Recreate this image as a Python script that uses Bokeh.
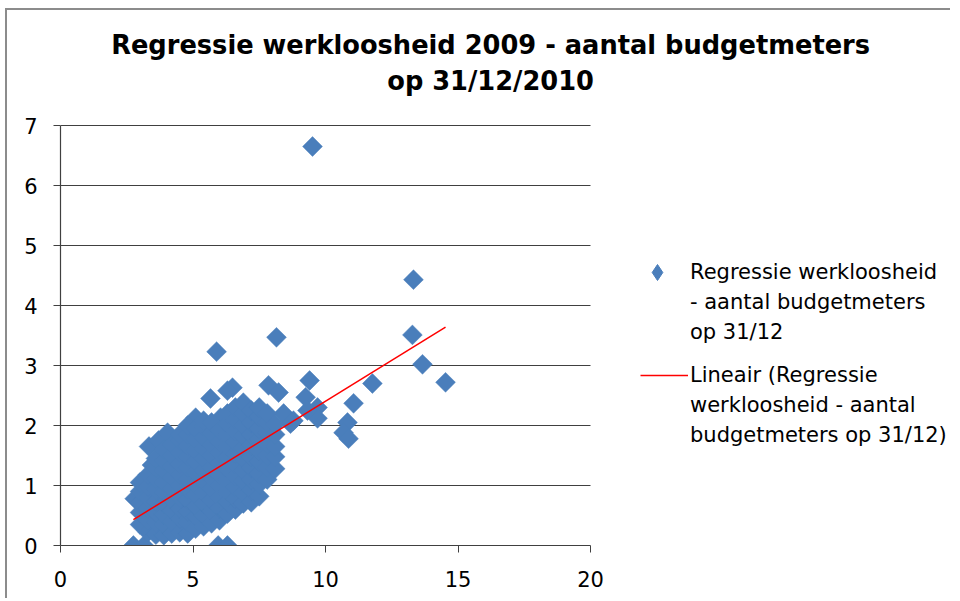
import math
from bokeh.plotting import figure
from bokeh.models import Range1d, FixedTicker, Legend, LegendItem, Label, ColumnDataSource
from bokeh.embed import file_html
from bokeh.resources import INLINE

# --- data ---
# individually readable points (outliers and cluster edges)
edge_x = [9.51, 13.32, 13.28, 13.66, 14.53, 8.15, 11.77, 11.06, 10.83, 10.68, 10.87,
          5.89, 7.85, 8.23, 9.40, 9.25, 9.70, 9.70, 8.42, 8.79, 9.32, 8.68, 5.66,
          6.49, 6.30, 3.34, 3.45, 2.80, 2.75, 3.15, 5.95, 6.30, 3.70, 4.04, 5.10, 6.04]
edge_y = [6.65, 4.43, 3.51, 3.02, 2.72, 3.47, 2.70, 2.37, 2.05, 1.88, 1.78,
          3.23, 2.67, 2.55, 2.75, 2.47, 2.30, 2.12, 2.20, 2.08, 2.25, 2.03, 2.45,
          2.63, 2.58, 1.65, 1.34, 0.78, 0.00, 0.00, 0.00, 0.00, 1.75, 1.88, 2.13, 2.13]

# dense cluster, read column by column (unemployment %, budget meters %)
cluster_cols = [
    (3.0, [0.35, 0.55, 0.72, 0.90, 1.05]),
    (3.3, [0.22, 0.42, 0.61, 0.80, 0.98, 1.18]),
    (3.6, [0.18, 0.38, 0.55, 0.74, 0.93, 1.12, 1.30, 1.45]),
    (3.9, [0.17, 0.35, 0.52, 0.70, 0.88, 1.05, 1.25, 1.42, 1.60]),
    (4.2, [0.20, 0.40, 0.58, 0.77, 0.95, 1.13, 1.32, 1.50, 1.68]),
    (4.5, [0.22, 0.45, 0.62, 0.80, 1.00, 1.18, 1.36, 1.55, 1.75, 1.85]),
    (4.8, [0.20, 0.38, 0.57, 0.76, 0.93, 1.10, 1.30, 1.48, 1.66, 1.85, 2.00]),
    (5.1, [0.28, 0.48, 0.65, 0.85, 1.02, 1.22, 1.40, 1.58, 1.77, 1.95]),
    (5.4, [0.32, 0.50, 0.70, 0.88, 1.07, 1.25, 1.45, 1.62, 1.80, 1.98, 2.08]),
    (5.7, [0.37, 0.58, 0.76, 0.95, 1.13, 1.30, 1.50, 1.68, 1.87, 2.05]),
    (6.0, [0.42, 0.62, 0.80, 1.00, 1.18, 1.37, 1.55, 1.73, 1.92]),
    (6.3, [0.53, 0.72, 0.90, 1.10, 1.28, 1.47, 1.65, 1.85, 2.03, 2.20]),
    (6.6, [0.60, 0.78, 0.97, 1.15, 1.35, 1.53, 1.72, 1.90, 2.10, 2.30]),
    (6.9, [0.70, 0.88, 1.07, 1.25, 1.45, 1.63, 1.82, 2.00, 2.20, 2.38]),
    (7.2, [0.72, 0.92, 1.10, 1.30, 1.48, 1.67, 1.85, 2.05, 2.25]),
    (7.5, [0.82, 1.02, 1.20, 1.40, 1.58, 1.77, 1.95, 2.15, 2.30]),
    (7.8, [1.10, 1.30, 1.50, 1.70, 1.88, 2.05, 2.20]),
    (8.1, [1.28, 1.48, 1.65, 1.85, 2.02]),
]

# linear trend line (as drawn by the spreadsheet)
trend_slope = 0.2724
trend_intercept = -0.319

x_ticks = [0, 5, 10, 15, 20]
y_ticks = [0, 1, 2, 3, 4, 5, 6, 7]

title_text = "Regressie werkloosheid 2009 - aantal budgetmeters\nop 31/12/2010"
series_lines = ["Regressie werkloosheid", "- aantal budgetmeters", "op 31/12"]
trend_lines = ["Lineair (Regressie", "werkloosheid - aantal", "budgetmeters op 31/12)"]

# --- layout (pixels) ---
W, H = 945, 590
B_LEFT, B_BOTTOM = 53, 55
AXIS_W_PX, AXIS_H_PX = 530, 420          # pixel extent of the 0-20 / 0-7 axes
frame_w, frame_h = W - B_LEFT, H - B_BOTTOM
x_end = x_ticks[-1] * frame_w / AXIS_W_PX
y_end = y_ticks[-1] * frame_h / AXIS_H_PX

# --- build ---
xs = list(edge_x)
ys = list(edge_y)
for cx, col in cluster_cols:
    for cy in col:
        xs.append(cx)
        ys.append(cy)

tx = [min(xs), max(xs)]
ty = [trend_slope * v + trend_intercept for v in tx]

FONT = "DejaVu Sans"
BLUE = "#4A7EBB"
GRID = "#404040"
RED = "#FF0000"

p = figure(width=W, height=H, output_backend="svg", toolbar_location=None,
           x_range=Range1d(0, x_end), y_range=Range1d(0, y_end),
           min_border_left=B_LEFT, min_border_right=0, min_border_top=0,
           min_border_bottom=B_BOTTOM)
p.styles = {"margin-left": "5px", "margin-top": "8px",
            "border-top": "2px solid #8c8c8c", "border-left": "2px solid #8c8c8c"}
p.outline_line_color = None
p.background_fill_color = "white"
p.border_fill_color = "white"
p.xgrid.visible = False
p.ygrid.visible = False

# horizontal gridlines limited to the axis extent
gy = y_ticks[1:]
p.segment(x0=[x_ticks[0]] * len(gy), y0=gy, x1=[x_ticks[-1]] * len(gy), y1=gy,
          line_color=GRID, line_width=1.2)

src = ColumnDataSource(dict(x=xs, y=ys))
pts = p.scatter("x", "y", source=src, marker="square", size=14, angle=math.pi / 4,
                fill_color=BLUE, line_color=BLUE, line_width=0.5)
trend = p.line(tx, ty, line_color=RED, line_width=1.5)
# legend key for the points (the legend cannot draw rotated markers): same data, hidden
pts_key = p.scatter("x", "y", source=src, marker="diamond", fill_color=BLUE,
                    line_color=BLUE, visible=False)
blank = p.line([], [], line_alpha=0)

p.xaxis.ticker = FixedTicker(ticks=x_ticks)
p.yaxis.ticker = FixedTicker(ticks=y_ticks)
p.xaxis.bounds = (x_ticks[0], x_ticks[-1])
p.yaxis.bounds = (y_ticks[0], y_ticks[-1])
for ax in (p.xaxis[0], p.yaxis[0]):
    ax.axis_line_color = GRID
    ax.axis_line_width = 1.2
    ax.major_tick_line_color = GRID
    ax.major_tick_out = 7
    ax.major_tick_in = 0
    ax.minor_tick_line_color = None
    ax.major_label_text_font = FONT
    ax.major_label_text_font_size = "21px"
    ax.major_label_text_color = "black"
p.xaxis.major_label_standoff = 18
p.yaxis.major_label_standoff = 16

common = dict(padding=0, margin=0, spacing=0, label_height=30,
              label_text_font=FONT, label_text_font_size="21px", label_text_color="black",
              border_line_alpha=0, background_fill_alpha=0, inactive_fill_alpha=0)
leg1a = Legend(items=[LegendItem(label=series_lines[0], renderers=[pts_key])],
               location=(577, 253), glyph_width=40, glyph_height=40, label_standoff=13,
               **common)
leg1b = Legend(items=[LegendItem(label=series_lines[1], renderers=[blank]),
                      LegendItem(label=series_lines[2], renderers=[blank])],
               location=(580, 198), glyph_width=34, glyph_height=30, label_standoff=16,
               **common)
leg2 = Legend(items=[LegendItem(label=trend_lines[0], renderers=[trend]),
                     LegendItem(label=trend_lines[1], renderers=[blank]),
                     LegendItem(label=trend_lines[2], renderers=[blank])],
              location=(580, 95), glyph_width=48, glyph_height=30, label_standoff=2,
              **common)
p.add_layout(leg1a)
p.add_layout(leg1b)
p.add_layout(leg2)

title = Label(x=16.23, y=8.04, text=title_text, text_align="center", text_baseline="middle",
              text_font=FONT, text_font_size="25.7px", text_font_style="bold",
              text_color="black", text_line_height=1.2)
p.add_layout(title)

open("out.html", "w").write(file_html(p, INLINE))
